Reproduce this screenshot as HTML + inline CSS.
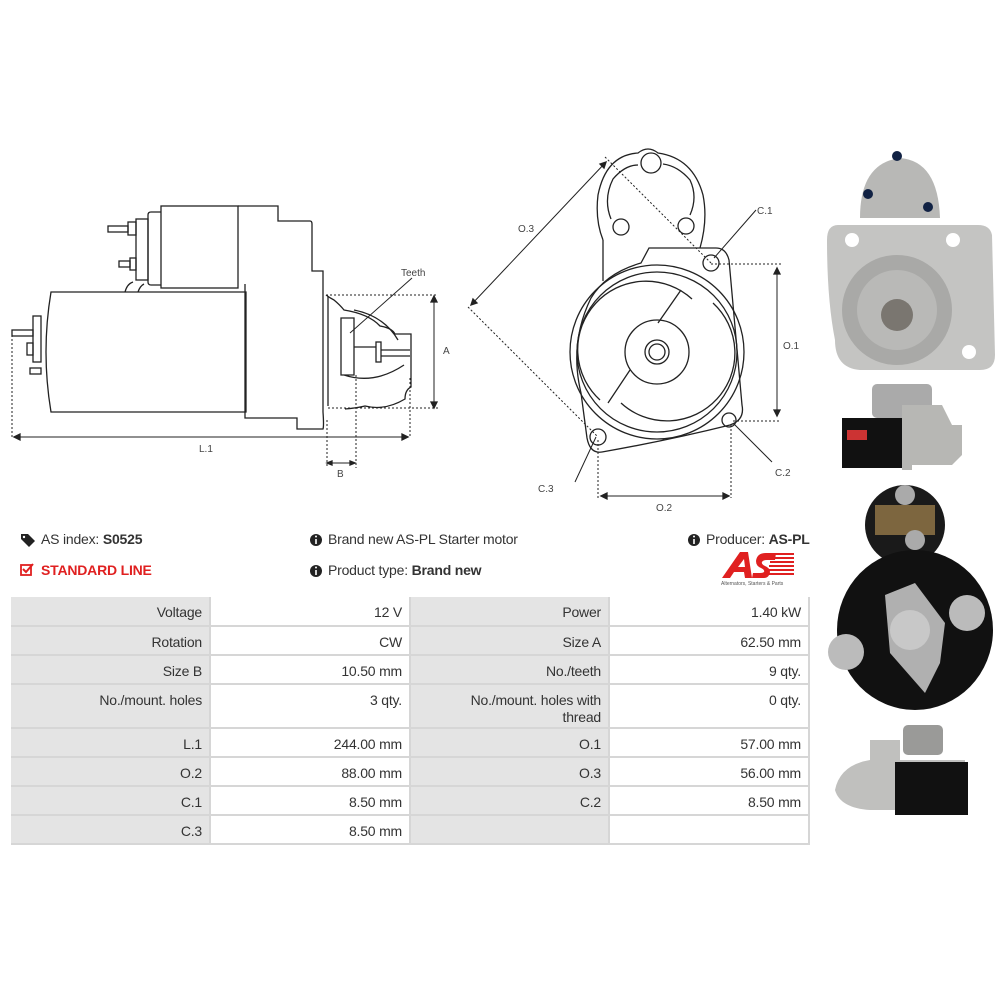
<!DOCTYPE html>
<html><head><meta charset="utf-8"><style>
*{margin:0;padding:0;box-sizing:border-box}
body{width:1000px;height:1000px;background:#fff;position:relative;overflow:hidden;font-family:"Liberation Sans",sans-serif;color:#333}
.t{position:absolute;font-size:14px;white-space:nowrap;letter-spacing:-0.2px}
.c{position:absolute;font-size:14px;letter-spacing:-0.2px;text-align:right;padding:7px 7px 0 4px;line-height:17px;border-right:2px solid #d6d6d6;border-bottom:2px solid #d6d6d6}
.g{background:#e4e4e4}
.w{background:#fff}
svg{position:absolute;left:0;top:0}
</style></head><body>
<svg width="1000" height="1000" viewBox="0 0 1000 1000" fill="none" stroke="#222" stroke-width="1.3" font-family="Liberation Sans, sans-serif">
<g>
<rect x="161" y="206" width="77" height="82"/>
<path d="M161 212 h-10 q-3 0 -3 3 v67 q0 3 3 3 h10"/>
<rect x="136" y="219" width="12" height="61"/>
<rect x="128" y="222" width="8" height="13"/><rect x="108" y="226" width="20" height="6"/>
<rect x="130" y="258" width="6" height="12"/><rect x="119" y="261" width="11" height="6"/>
<path d="M238 206 h40 v15 h32 q2 0 2 3 v47 h11 v141 q1 14 0 17 h-26 v-11 h-52 v-134"/>
<path d="M51 292 h195 v120 h-195 q-10 -60 0 -120z"/>
<rect x="33" y="316" width="8" height="46"/><rect x="12" y="330" width="21" height="6"/>
<rect x="27" y="343" width="6" height="12"/><rect x="30" y="368" width="11" height="6"/>
<path d="M125 292 q2 -8 8 -10 M138 292 q2 -6 6 -8"/>
<path d="M326 295 q4 3 8 5 q6 5 10 10 q25 4 36 16 q12 2 15 8 h16 v53 q-6 3 -6 12 q-20 12 -40 7 q-8 2 -20 3"/>
<path d="M341 318 h13 v57 h-13 z M354 310 q30 6 44 30 M344 375 q30 10 60 -10"/>
<rect x="376" y="342" width="5" height="20"/><path d="M354 347 h22 M381 350 h29 M381 356 h29"/>
<path d="M328 296 v110" />
<g stroke-dasharray="2 2" stroke-width="1">
<path d="M326 295 h112 M328 408 h110 M12 335 v103 M410 378 v60 M327 420 v48 M356 375 v93"/>
</g>
<path d="M14 437 h394 M327 463 h28 M434 296 v112" stroke-width="1"/>
<path d="M14 437 l6 -3 v6z M408 437 l-6 -3 v6z M434 296 l-3 6 h6z M434 408 l-3 -6 h6z M327 463 l5 -2 v4z M355 463 l-5 -2 v4z" fill="#222"/>
<path d="M412 278 l-62 55" stroke-width="1"/>
</g>
<g fill="#444" stroke="none" font-size="10">
<text x="401" y="276">Teeth</text>
<text x="443" y="354">A</text>
<text x="199" y="452">L.1</text>
<text x="337" y="477">B</text>
</g>
<g>
<path d="M603 240 q-8 -20 -5 -45 q8 -40 40 -42 q10 -8 20 0 q35 5 45 42 q5 25 -3 53"/>
<path d="M611 219 q-8 -20 2 -40 q12 -14 25 -14 M690 215 q8 -18 0 -35 q-12 -14 -27 -16"/>
<circle cx="651" cy="163" r="10"/><circle cx="621" cy="227" r="8"/><circle cx="686" cy="226" r="8"/>
<path d="M603 240 v41 M649 248 h67 q10 0 13 12 l13 145 q3 15 -12 20 q-60 15 -128 27 q-12 2 -15 -14 l-6 -45 q-12 -50 10 -95 q15 -25 50 -35 z"/>
<circle cx="657" cy="352" r="87"/><circle cx="657" cy="352" r="80"/>
<path d="M600 400 a63 63 0 1 1 92 -101 M621 403 a63 63 0 0 0 92 -100"/>
<path d="M681 290 l-23 33 M630 370 l-22 33"/>
<circle cx="657" cy="352" r="32"/><circle cx="657" cy="352" r="12"/><circle cx="657" cy="352" r="8"/>
<circle cx="711" cy="263" r="8"/><circle cx="729" cy="420" r="7"/><circle cx="598" cy="437" r="8"/>
<g stroke-dasharray="2 2" stroke-width="1">
<path d="M605 157 l106 106 M468 307 l130 130 M711 264 h70 M733 421 h48 M598 440 v58 M731 425 v73"/>
</g>
<g stroke-width="1">
<path d="M606 162 l-135 143 M777 268 v148 M601 496 h128 M756 210 l-42 48 M575 482 l21 -45 M772 462 l-38 -38"/>
</g>
<path d="M606 162 l-2 6 l-4 -4z M471 305 l2 -6 l4 4z M777 268 l-3 6 h6z M777 416 l-3 -6 h6z M601 496 l6 -3 v6z M729 496 l-6 -3 v6z" fill="#222"/>
</g>
<g fill="#444" stroke="none" font-size="10">
<text x="518" y="232">O.3</text><text x="757" y="214">C.1</text><text x="783" y="349">O.1</text>
<text x="775" y="476">C.2</text><text x="538" y="492">C.3</text><text x="656" y="511">O.2</text>
</g>
<g stroke="none">
<path d="M860 218 q0 -55 40 -60 q38 3 40 60z" fill="#b8b8b6"/>
<path d="M838 225 h140 q12 0 14 10 l3 120 q0 15 -15 15 h-120 q-25 -2 -25 -30 q-8 -40 -8 -100 q0 -15 11 -15z" fill="#c4c4c2"/>
<circle cx="897" cy="310" r="55" fill="#a9a9a7"/><circle cx="897" cy="310" r="40" fill="#b9b9b7"/>
<circle cx="897" cy="315" r="16" fill="#7a7670"/>
<circle cx="852" cy="240" r="7" fill="#fff"/><circle cx="953" cy="240" r="7" fill="#fff"/><circle cx="969" cy="352" r="7" fill="#fff"/>
<circle cx="897" cy="156" r="5" fill="#124"/><circle cx="868" cy="194" r="5" fill="#124"/><circle cx="928" cy="207" r="5" fill="#124"/>
<rect x="872" y="384" width="60" height="34" rx="5" fill="#aaa"/>
<rect x="842" y="418" width="60" height="50" fill="#111"/>
<path d="M902 405 h40 l10 20 h10 v30 l-10 10 h-40 v5 h-10z" fill="#b7b7b4"/>
<rect x="847" y="430" width="20" height="10" fill="#c33"/>
<circle cx="905" cy="525" r="40" fill="#1a1a1a"/>
<path d="M875 505 h60 v30 h-60z" fill="#a88850" opacity=".7"/>
<circle cx="905" cy="495" r="10" fill="#aaa"/><circle cx="915" cy="540" r="10" fill="#aaa"/>
<ellipse cx="915" cy="630" rx="78" ry="80" fill="#111"/>
<path d="M885 595 l30 -12 l30 40 l-5 40 l-15 30 l-35 -40z" fill="#b0b0b0"/>
<circle cx="910" cy="630" r="20" fill="#c8c8c8"/>
<circle cx="967" cy="613" r="18" fill="#bbb"/><circle cx="846" cy="652" r="18" fill="#bbb"/>
<path d="M835 790 q5 -25 35 -30 v-20 h30 v20 h65 v50 h-95 q-30 -2 -35 -20z" fill="#c0c0be"/>
<rect x="903" y="725" width="40" height="30" rx="5" fill="#9a9a98"/>
<rect x="895" y="762" width="73" height="53" fill="#111"/>
</g>
<g stroke="none" fill="#e02020">
<path d="M722 578 l18 -26 h8 l4 26 h-7 l-1 -6 h-10 l-4 6z M738 567 h7 l-1 -8z" />
<path d="M752 578 h12 q5 0 6 -6 q0 -4 -5 -6 q-4 -2 -3 -4 q1 -2 5 -2 h8 l1 -7 h-10 q-9 0 -10 8 q0 5 5 7 q4 2 3 4 q-1 1 -4 1 h-7z"/>
<rect x="772" y="553" width="22" height="2"/><rect x="771" y="557" width="23" height="2"/><rect x="770" y="561" width="24" height="2"/><rect x="769" y="565" width="25" height="2"/><rect x="768" y="569" width="26" height="2"/><rect x="767" y="573" width="27" height="2"/>
</g>
<text x="721" y="585" font-size="5" fill="#555" stroke="none">Alternators, Starters &amp; Parts</text>
<path d="M21 534 h7 l7 7 l-6 6 l-8 -8z" fill="#222" stroke="none"/><circle cx="24" cy="537" r="1.2" fill="#fff" stroke="none"/>
<rect x="21" y="565" width="10" height="10" stroke="#e02020" stroke-width="1.8"/><path d="M23 569 l3 3 l7 -8" stroke="#e02020" stroke-width="2"/>
<g stroke="none"><circle cx="316" cy="540" r="6" fill="#222"/><circle cx="316" cy="571" r="6" fill="#222"/><circle cx="694" cy="540" r="6" fill="#222"/></g>
<g stroke="#fff" stroke-width="1.6"><path d="M316 539 v5 M694 539 v5 M316 570 v5"/></g>
<g fill="#fff" stroke="none"><circle cx="316" cy="536.5" r="1"/><circle cx="694" cy="536.5" r="1"/><circle cx="316" cy="567.5" r="1"/></g>
</svg>
<div class="t" style="left:41px;top:531px">AS index: <b>S0525</b></div>
<div class="t" style="left:41px;top:562px;color:#e02020;font-weight:bold">STANDARD LINE</div>
<div class="t" style="left:328px;top:531px">Brand new AS-PL Starter motor</div>
<div class="t" style="left:328px;top:562px">Product type: <b>Brand new</b></div>
<div class="t" style="left:706px;top:531px">Producer: <b>AS-PL</b></div>

<div style="position:absolute;left:11px;top:597px;width:799px;height:248px;border-top:2px solid #d6d6d6;border-left:2px solid #d6d6d6"></div>
<div class="c g" style="left:11px;top:597px;width:200px;height:30px">Voltage</div><div class="c w" style="left:211px;top:597px;width:200px;height:30px">12 V</div><div class="c g" style="left:411px;top:597px;width:199px;height:30px">Power</div><div class="c w" style="left:610px;top:597px;width:200px;height:30px">1.40 kW</div>
<div class="c g" style="left:11px;top:627px;width:200px;height:29px">Rotation</div><div class="c w" style="left:211px;top:627px;width:200px;height:29px">CW</div><div class="c g" style="left:411px;top:627px;width:199px;height:29px">Size A</div><div class="c w" style="left:610px;top:627px;width:200px;height:29px">62.50 mm</div>
<div class="c g" style="left:11px;top:656px;width:200px;height:29px">Size B</div><div class="c w" style="left:211px;top:656px;width:200px;height:29px">10.50 mm</div><div class="c g" style="left:411px;top:656px;width:199px;height:29px">No./teeth</div><div class="c w" style="left:610px;top:656px;width:200px;height:29px">9 qty.</div>
<div class="c g" style="left:11px;top:685px;width:200px;height:44px">No./mount. holes</div><div class="c w" style="left:211px;top:685px;width:200px;height:44px">3 qty.</div><div class="c g" style="left:411px;top:685px;width:199px;height:44px">No./mount. holes with<br>thread</div><div class="c w" style="left:610px;top:685px;width:200px;height:44px">0 qty.</div>
<div class="c g" style="left:11px;top:729px;width:200px;height:29px">L.1</div><div class="c w" style="left:211px;top:729px;width:200px;height:29px">244.00 mm</div><div class="c g" style="left:411px;top:729px;width:199px;height:29px">O.1</div><div class="c w" style="left:610px;top:729px;width:200px;height:29px">57.00 mm</div>
<div class="c g" style="left:11px;top:758px;width:200px;height:29px">O.2</div><div class="c w" style="left:211px;top:758px;width:200px;height:29px">88.00 mm</div><div class="c g" style="left:411px;top:758px;width:199px;height:29px">O.3</div><div class="c w" style="left:610px;top:758px;width:200px;height:29px">56.00 mm</div>
<div class="c g" style="left:11px;top:787px;width:200px;height:29px">C.1</div><div class="c w" style="left:211px;top:787px;width:200px;height:29px">8.50 mm</div><div class="c g" style="left:411px;top:787px;width:199px;height:29px">C.2</div><div class="c w" style="left:610px;top:787px;width:200px;height:29px">8.50 mm</div>
<div class="c g" style="left:11px;top:816px;width:200px;height:29px">C.3</div><div class="c w" style="left:211px;top:816px;width:200px;height:29px">8.50 mm</div><div class="c g" style="left:411px;top:816px;width:199px;height:29px"></div><div class="c w" style="left:610px;top:816px;width:200px;height:29px"></div>
</body></html>
